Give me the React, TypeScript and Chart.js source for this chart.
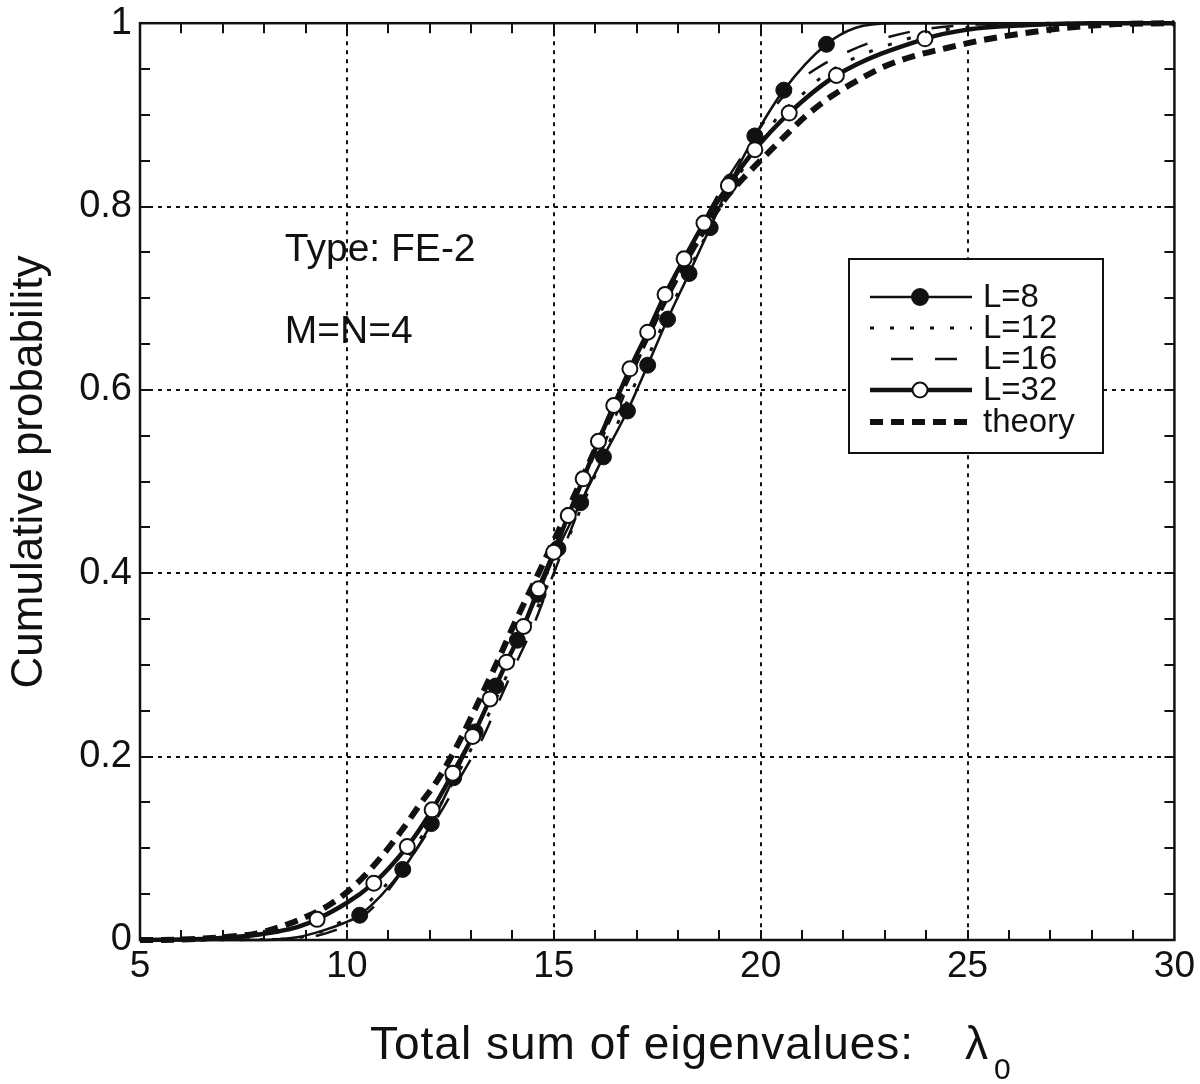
import React, { useEffect, useRef } from "react";
import { Chart, registerables } from "chart.js";

Chart.register(...registerables);

const FONT = '"Liberation Sans", Arial, Helvetica, sans-serif';

// axes
const X_MIN = 5;
const X_MAX = 30;
const X_STEP = 5;
const X_MINOR = 1;
const Y_MIN = 0;
const Y_MAX = 1;
const Y_STEP = 0.2;
const Y_MINOR = 0.05;

const X_TITLE = "Total sum of eigenvalues:";
const X_TITLE_SYMBOL = "λ";
const X_TITLE_SUB = "0";
const Y_TITLE = "Cumulative probability";

const ANNOT_TEXT = ["Type: FE-2", "M=N=4"];
const ANNOT_X = [8.5, 8.5];
const ANNOT_Y = [0.741, 0.651];

const LEGEND_LABELS = ["L=8", "L=12", "L=16", "L=32", "theory"];

// L=8 (thin solid, filled circles)
const L8_LOW_X = [5, 8.0, 8.8, 9.4, 9.9];
const L8_LOW_P = [0, 0, 0.003, 0.01, 0.018];
const L8_MARK_X = [10.31, 11.35, 12.04, 12.58, 13.1, 13.6, 14.12, 14.62, 15.1, 15.65, 16.2, 16.78, 17.27, 17.75, 18.27, 18.78, 19.28, 19.86, 20.56, 21.59];
const L8_MARK_P = [0.027, 0.077, 0.127, 0.177, 0.227, 0.277, 0.327, 0.377, 0.427, 0.477, 0.527, 0.577, 0.627, 0.677, 0.727, 0.777, 0.827, 0.877, 0.927, 0.977];
const L8_HIGH_X = [22.3, 23.2, 30];
const L8_HIGH_P = [0.995, 1, 1];

// L=12 (dotted)
const L12_X = [5, 8.5, 9.3, 9.7, 10.3, 10.9, 11.5, 12.0, 12.5, 13.0, 13.5, 14.0, 14.5, 15.0, 15.5, 16.0, 16.5, 17.0, 17.5, 18.0, 18.5, 19.0, 19.5, 20.0, 20.4, 21.0, 21.5, 22.05, 22.7, 23.34, 24.2, 25.5, 27, 30];
const L12_P = [0, 0.001, 0.008, 0.016, 0.033, 0.058, 0.092, 0.127, 0.167, 0.208, 0.253, 0.302, 0.352, 0.402, 0.454, 0.507, 0.559, 0.61, 0.658, 0.706, 0.752, 0.797, 0.836, 0.869, 0.897, 0.922, 0.942, 0.957, 0.97, 0.98, 0.991, 0.997, 1, 1];

// L=16 (dashed)
const L16_X = [5, 8.6, 9.3, 9.9, 10.5, 11.1, 11.7, 12.3, 12.8, 13.3, 13.7, 14.1, 14.5, 14.85, 15.2, 15.55, 15.9, 16.25, 16.6, 16.95, 17.35, 17.75, 18.15, 18.6, 19.1, 19.65, 20.2, 20.75, 21.33, 22.21, 23.02, 23.9, 25, 26.5, 30];
const L16_P = [0, 0.001, 0.005, 0.014, 0.03, 0.06, 0.1, 0.142, 0.182, 0.222, 0.263, 0.303, 0.342, 0.383, 0.423, 0.463, 0.503, 0.544, 0.583, 0.623, 0.663, 0.704, 0.743, 0.782, 0.823, 0.862, 0.9, 0.93, 0.95, 0.971, 0.984, 0.993, 0.998, 1, 1];

// L=32 (thick solid, open circles)
const L32_LOW_X = [5, 6.5, 7.5, 8.3, 8.8];
const L32_LOW_P = [0, 0.001, 0.004, 0.009, 0.014];
const L32_MARK_X = [9.28, 10.65, 11.46, 12.06, 12.56, 13.04, 13.46, 13.86, 14.27, 14.63, 15.0, 15.35, 15.71, 16.08, 16.45, 16.84, 17.27, 17.69, 18.15, 18.63, 19.22, 19.86, 20.69, 21.83, 23.97];
const L32_MARK_P = [0.0225, 0.062, 0.102, 0.142, 0.182, 0.222, 0.263, 0.303, 0.342, 0.383, 0.423, 0.463, 0.503, 0.544, 0.583, 0.623, 0.663, 0.704, 0.743, 0.782, 0.823, 0.862, 0.902, 0.943, 0.983];
const L32_HIGH_X = [25, 26.5, 28, 30];
const L32_HIGH_P = [0.993, 0.998, 1, 1];

// theory (thick dashed)
const THEORY_X = [5, 6, 7, 7.8, 8.4, 9.0, 9.6, 10.2, 10.8, 11.3, 11.8, 12.2, 12.7, 13.12, 13.6, 14.1, 14.61, 15.1, 15.6, 16.1, 16.6, 17.1, 17.6, 18.1, 18.6, 19.1, 19.6, 20.1, 20.5, 21.1, 21.7, 22.4, 23.0, 23.7, 24.5, 25.3, 26.2, 27.4, 28.6, 30];
const THEORY_P = [0, 0.0005, 0.003, 0.007, 0.0145, 0.025, 0.039, 0.06, 0.089, 0.118, 0.15, 0.175, 0.215, 0.254, 0.3, 0.35, 0.398, 0.445, 0.495, 0.545, 0.595, 0.643, 0.69, 0.733, 0.772, 0.806, 0.832, 0.855, 0.873, 0.899, 0.92, 0.939, 0.953, 0.964, 0.973, 0.981, 0.988, 0.995, 0.999, 1];

const pts = (xs: number[], ps: number[]) => xs.map((x, i) => ({ x, y: ps[i] }));

const STYLE = {
  L8: { width: 2.5, dash: [] as number[], radius: 8, fill: "#111" },
  L12: { width: 3, dash: [4, 16] },
  L16: { width: 2.5, dash: [22, 22] },
  L32: { width: 4.5, dash: [] as number[], radius: 7.5, fill: "#fff" },
  TH: { width: 6, dash: [13, 8] },
};

const INK = "#111";

const decorPlugin = {
  id: "decor",
  beforeDatasetsDraw(chart: any) {
    const { ctx, chartArea: a, scales } = chart;
    const x = scales.x;
    const y = scales.y;
    ctx.save();
    ctx.strokeStyle = INK;
    ctx.lineWidth = 2;
    ctx.setLineDash([4, 5]);
    for (let v = X_MIN + X_STEP; v < X_MAX - 1e-9; v += X_STEP) {
      const px = Math.round(x.getPixelForValue(v));
      ctx.beginPath();
      ctx.moveTo(px, a.top);
      ctx.lineTo(px, a.bottom);
      ctx.stroke();
    }
    for (let v = Y_MIN + Y_STEP; v < Y_MAX - 1e-9; v += Y_STEP) {
      const py = Math.round(y.getPixelForValue(v));
      ctx.beginPath();
      ctx.moveTo(a.left, py);
      ctx.lineTo(a.right, py);
      ctx.stroke();
    }
    ctx.restore();
  },
  afterDatasetsDraw(chart: any) {
    const { ctx, chartArea: a, scales } = chart;
    const x = scales.x;
    const y = scales.y;
    ctx.save();
    ctx.setLineDash([]);
    ctx.strokeStyle = INK;
    // frame
    ctx.lineWidth = 2.5;
    ctx.strokeRect(a.left, a.top, a.right - a.left, a.bottom - a.top);
    // inward ticks
    ctx.lineWidth = 2;
    const TL = 10;
    for (let v = X_MIN + X_MINOR; v < X_MAX - 1e-9; v += X_MINOR) {
      const px = Math.round(x.getPixelForValue(v));
      ctx.beginPath();
      ctx.moveTo(px, a.bottom);
      ctx.lineTo(px, a.bottom - TL);
      ctx.moveTo(px, a.top);
      ctx.lineTo(px, a.top + TL);
      ctx.stroke();
    }
    for (let v = Y_MIN + Y_MINOR; v < Y_MAX - 1e-9; v += Y_MINOR) {
      const py = Math.round(y.getPixelForValue(v));
      ctx.beginPath();
      ctx.moveTo(a.left, py);
      ctx.lineTo(a.left + TL, py);
      ctx.moveTo(a.right, py);
      ctx.lineTo(a.right - TL, py);
      ctx.stroke();
    }

    // annotations
    ctx.fillStyle = INK;
    ctx.font = `39px ${FONT}`;
    ctx.textAlign = "left";
    ctx.textBaseline = "alphabetic";
    ANNOT_TEXT.forEach((t, i) => {
      ctx.fillText(t, x.getPixelForValue(ANNOT_X[i]), y.getPixelForValue(ANNOT_Y[i]));
    });

    // legend
    const bx = 849, by = 259, bw = 254, bh = 194;
    ctx.fillStyle = "#fff";
    ctx.fillRect(bx, by, bw, bh);
    ctx.lineWidth = 2;
    ctx.strokeStyle = INK;
    ctx.strokeRect(bx, by, bw, bh);
    const rows = [297, 328, 359, 390, 422];
    const lx0 = 870, lx1 = 972, mx = 920;
    const styles = [STYLE.L8, STYLE.L12, STYLE.L16, STYLE.L32, STYLE.TH];
    styles.forEach((s: any, i) => {
      const ry = rows[i];
      ctx.save();
      ctx.lineWidth = s.width;
      ctx.setLineDash(s.dash);
      ctx.lineDashOffset = i === 2 ? 23 : 0;
      ctx.lineCap = "butt";
      ctx.beginPath();
      ctx.moveTo(lx0, ry);
      ctx.lineTo(lx1, ry);
      ctx.stroke();
      ctx.restore();
      if (s.radius) {
        ctx.save();
        ctx.setLineDash([]);
        ctx.beginPath();
        ctx.arc(mx, ry, s.radius, 0, Math.PI * 2);
        ctx.fillStyle = s.fill;
        ctx.fill();
        ctx.lineWidth = 2;
        ctx.strokeStyle = INK;
        ctx.stroke();
        ctx.restore();
      }
      ctx.fillStyle = INK;
      ctx.font = `33px ${FONT}`;
      ctx.textAlign = "left";
      ctx.textBaseline = "middle";
      ctx.fillText(LEGEND_LABELS[i], 983, ry + 1);
    });
    ctx.restore();
  },
  afterDraw(chart: any) {
    const { ctx } = chart;
    ctx.save();
    ctx.fillStyle = INK;
    // x title
    ctx.font = `46px ${FONT}`;
    ctx.textAlign = "left";
    ctx.textBaseline = "alphabetic";
    try {
      (ctx as any).letterSpacing = "1px";
    } catch (e) {}
    ctx.fillText(X_TITLE, 370, 1059);
    try {
      (ctx as any).letterSpacing = "0px";
    } catch (e) {}
    ctx.fillText(X_TITLE_SYMBOL, 965, 1059);
    ctx.font = `30px ${FONT}`;
    ctx.fillText(X_TITLE_SUB, 994, 1079);
    // y title
    ctx.translate(42, 472);
    ctx.rotate(-Math.PI / 2);
    ctx.font = `44px ${FONT}`;
    ctx.textAlign = "center";
    ctx.fillText(Y_TITLE, 0, 0);
    ctx.restore();
  },
};

export default function App() {
  const ref = useRef<HTMLCanvasElement | null>(null);
  useEffect(() => {
    const canvas = ref.current;
    if (!canvas) return;
    const markRadius = (lowLen: number, markLen: number, r: number) => (c: any) =>
      c.dataIndex >= lowLen && c.dataIndex < lowLen + markLen ? r : 0;

    const chart = new Chart(canvas, {
      type: "line",
      data: {
        datasets: [
          {
            label: LEGEND_LABELS[3],
            data: pts([...L32_LOW_X, ...L32_MARK_X, ...L32_HIGH_X], [...L32_LOW_P, ...L32_MARK_P, ...L32_HIGH_P]),
            borderColor: INK,
            borderWidth: STYLE.L32.width,
            pointRadius: markRadius(L32_LOW_X.length, L32_MARK_X.length, STYLE.L32.radius),
            pointBackgroundColor: "#fff",
            pointBorderColor: INK,
            pointBorderWidth: 2,
            order: 0,
          },
          {
            label: LEGEND_LABELS[0],
            data: pts([...L8_LOW_X, ...L8_MARK_X, ...L8_HIGH_X], [...L8_LOW_P, ...L8_MARK_P, ...L8_HIGH_P]),
            borderColor: INK,
            borderWidth: STYLE.L8.width,
            pointRadius: markRadius(L8_LOW_X.length, L8_MARK_X.length, STYLE.L8.radius),
            pointBackgroundColor: INK,
            pointBorderColor: INK,
            pointBorderWidth: 1,
            order: 1,
          },
          {
            label: LEGEND_LABELS[1],
            data: pts(L12_X, L12_P),
            borderColor: INK,
            borderWidth: STYLE.L12.width,
            borderDash: STYLE.L12.dash,
            pointRadius: 0,
            order: 2,
          },
          {
            label: LEGEND_LABELS[2],
            data: pts(L16_X, L16_P),
            borderColor: INK,
            borderWidth: STYLE.L16.width,
            borderDash: STYLE.L16.dash,
            pointRadius: 0,
            order: 3,
          },
          {
            label: LEGEND_LABELS[4],
            data: pts(THEORY_X, THEORY_P),
            borderColor: INK,
            borderWidth: STYLE.TH.width,
            borderDash: STYLE.TH.dash,
            pointRadius: 0,
            order: 4,
          },
        ].map((d: any) => ({ ...d, cubicInterpolationMode: "monotone", fill: false, clip: false, pointHoverRadius: 0 })),
      },
      options: {
        animation: false,
        responsive: false,
        devicePixelRatio: 1,
        events: [],
        layout: { padding: { top: 22, right: 24, left: 0, bottom: 0 } },
        plugins: { legend: { display: false }, tooltip: { enabled: false } },
        scales: {
          x: {
            type: "linear",
            min: X_MIN,
            max: X_MAX,
            grid: { display: false, drawTicks: false },
            border: { display: false },
            ticks: { stepSize: X_STEP, color: INK, font: { family: FONT, size: 37 }, padding: 5, maxRotation: 0 },
            afterFit: (s: any) => {
              s.height = 144;
            },
          },
          y: {
            type: "linear",
            min: Y_MIN,
            max: Y_MAX,
            grid: { display: false, drawTicks: false },
            border: { display: false },
            ticks: {
              stepSize: Y_STEP,
              color: INK,
              font: { family: FONT, size: 38, lineHeight: 0.8 },
              padding: 8,
              callback: (v: any) => String(parseFloat(Number(v).toFixed(2))),
            },
            afterFit: (s: any) => {
              s.width = 140;
            },
          },
        },
      },
      plugins: [decorPlugin],
    } as any);
    return () => chart.destroy();
  }, []);
  return (
    <div style={{ position: "absolute", left: 0, top: 0, width: 1200, height: 1084, background: "#fff" }}>
      <canvas ref={ref} width={1200} height={1084} style={{ display: "block", width: 1200, height: 1084 }} />
    </div>
  );
}
